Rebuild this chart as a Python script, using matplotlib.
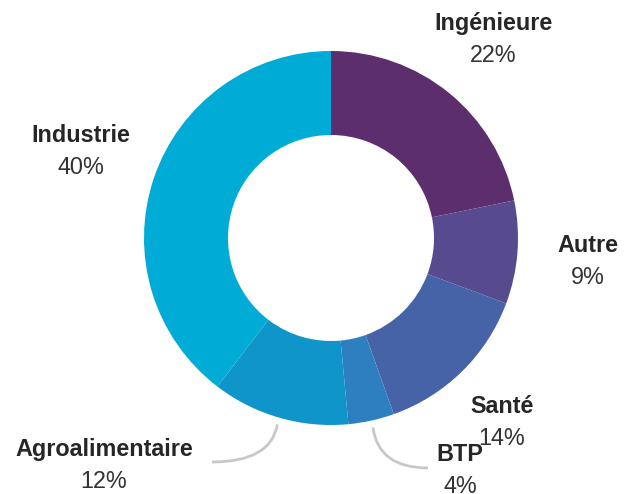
import numpy as np
import matplotlib.pyplot as plt
from matplotlib.path import Path
from matplotlib.patches import PathPatch

plt.rcParams['font.family'] = ['Liberation Sans', 'DejaVu Sans']

# data
labels = ['Ingénieure', 'Autre', 'Santé', 'BTP', 'Agroalimentaire', 'Industrie']
values = [22, 9, 14, 4, 12, 40]
colors = ['#5c2e6e', '#574a8e', '#4663a8', '#2e7fbf', '#0f95c9', '#00acd5']

# layout (pixel coords, y up)
W, H = 628, 494
cx, cy = 331, H - 238
R, ring = 187, 84
label_pos = {
    'Ingénieure': (493, H - 24),
    'Autre': (588, H - 246),
    'Santé': (502, H - 406),
    'BTP': (460, H - 454),
    'Agroalimentaire': (104, H - 449),
    'Industrie': (81, H - 136),
}
# labels with a curved leader line, and where the line ends
leaders = {'BTP': (428, H - 468), 'Agroalimentaire': (212, H - 462)}

fig = plt.figure(figsize=(W / 100, H / 100), dpi=100)
ax = fig.add_axes([0, 0, 1, 1])

ax.pie(values, colors=colors, startangle=90, counterclock=False,
       center=(cx, cy), radius=R, frame=True,
       wedgeprops=dict(width=ring, linewidth=0))
ax.set_xlim(0, W)
ax.set_ylim(0, H)
ax.set_aspect('equal')
ax.axis('off')

total = sum(values)
cum = 0
for lab, v in zip(labels, values):
    mid = (cum + v / 2) / total * 360
    cum += v
    x, y = label_pos[lab]
    ax.text(x, y, lab, ha='center', va='center', fontsize=16.8,
            fontweight='bold', color='#262626')
    ax.text(x, y - 32, f'{v}%', ha='center', va='center', fontsize=16.8,
            color='#333333')
    if lab in leaders:
        a = np.radians(90 - mid)
        sx, sy = cx + (R + 7) * np.cos(a), cy + (R + 7) * np.sin(a)
        ex, ey = leaders[lab]
        ctrl = (sx - 0.1 * (sx - ex), ey)
        p = Path([(sx, sy), ctrl, (ex, ey)],
                 [Path.MOVETO, Path.CURVE3, Path.CURVE3])
        ax.add_patch(PathPatch(p, fill=False, edgecolor='#c8c8c8', lw=2))

fig.savefig('out.png', dpi=100)
